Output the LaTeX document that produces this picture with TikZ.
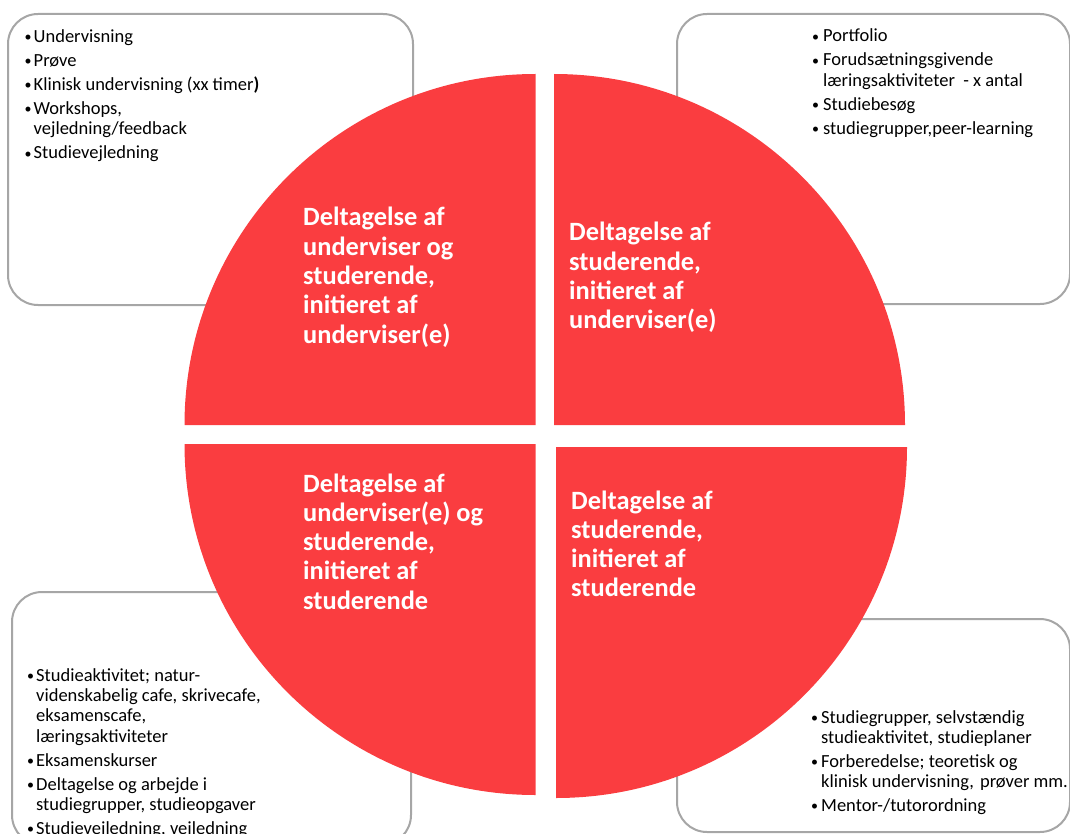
\documentclass[tikz,border=0pt]{standalone}
\usepackage{fontspec}
\setmainfont{Carlito}
\definecolor{piered}{RGB}{250,61,64}
\definecolor{framegray}{RGB}{166,166,166}
\newcommand{\smallbul}{\raisebox{0.6pt}{\fontsize{14}{14}\selectfont•}}
\newcommand{\bitem}[2][9pt]{\par\hangindent=#1\hangafter=1\noindent\makebox[#1][l]{\smallbul}#2}
\newcommand{\blist}[2][300pt]{\parbox[t]{#1}{\fontsize{18.5}{20.2}\selectfont\setlength{\parskip}{3.8pt}#2}}
\newcommand{\ttlbox}[1]{\parbox[t]{260pt}{\raggedright\fontsize{26.4}{29.3}\selectfont\bfseries #1}}
\tikzset{
  panel/.style={draw=framegray, line width=2pt, fill=white, rounded corners=30pt},
  sector/.style={fill=piered},
  listtext/.style={anchor=base west, inner sep=0pt, text=black},
  titletext/.style={anchor=base west, inner sep=0pt, text=white}
}
\begin{document}
\begin{tikzpicture}[x=1pt,y=1pt]
\useasboundingbox (0,0) rectangle (1070,-834);
\clip (0,0) rectangle (1070,-834);
% frames
\draw[panel] (8,-14) rectangle (413,-305);
\draw[panel] (677,-14) rectangle (1070,-304);
\draw[panel] (12,-592) rectangle (411,-845);
\draw[panel] (677,-619) rectangle (1070,-832);
% sectors
\fill[sector] (535.5,-425) -- (184.5,-425) arc[start angle=180, end angle=90, radius=351] -- cycle;
\fill[sector] (554,-425) -- (554,-74) arc[start angle=90, end angle=0, radius=351] -- cycle;
\fill[sector] (535.5,-444) -- (535.5,-795) arc[start angle=270, end angle=180, radius=351] -- cycle;
\fill[sector] (556,-447) -- (907,-447) arc[start angle=0, end angle=-90, radius=351] -- cycle;
% lists
\node[listtext] (tllist) at (24.5,-42.5) {\blist{%
\bitem{Undervisning}
\bitem{Prøve}
\bitem{Klinisk undervisning (xx timer\textbf{)}}
\bitem{Workshops,\\vejledning/feedback}
\bitem{Studievejledning}}};
\node[listtext] (trlist) at (812,-42) {\blist{%
\bitem[11pt]{Portfolio}
\bitem[11pt]{Forudsætningsgivende\\læringsaktiviteter \ - x antal}
\bitem[11pt]{Studiebesøg}
\bitem[11pt]{studiegrupper,peer-learning}}};
\node[listtext] (bllist) at (27,-681.5) {\blist{%
\bitem{Studieaktivitet; natur-\\videnskabelig cafe, skrivecafe,\\eksamenscafe,\\læringsaktiviteter}
\bitem{Eksamenskurser}
\bitem{Deltagelse og arbejde i\\studiegrupper, studieopgaver}
\bitem{Studievejledning, vejledning}}};
\node[listtext] (brlist) at (811,-723) {\blist{%
\bitem[10pt]{Studiegrupper, selvstændig\\studieaktivitet, studieplaner}
\bitem[10pt]{Forberedelse; teoretisk og\\klinisk undervisning,\hspace{2pt} prøver mm.}
\bitem[10pt]{Mentor-/tutorordning}}};
% titles
\node[titletext] (tltitle) at (303,-226) {\ttlbox{Deltagelse af\\underviser og\\studerende,\\initieret af\\underviser(e)}};
\node[titletext] (trtitle) at (569,-241) {\ttlbox{Deltagelse af\\studerende,\\initieret af\\underviser(e)}};
\node[titletext] (bltitle) at (303,-492) {\ttlbox{Deltagelse af\\underviser(e) og\\studerende,\\initieret af\\studerende}};
\node[titletext] (brtitle) at (571,-509) {\ttlbox{Deltagelse af\\studerende,\\initieret af\\studerende}};
\end{tikzpicture}
\end{document}
